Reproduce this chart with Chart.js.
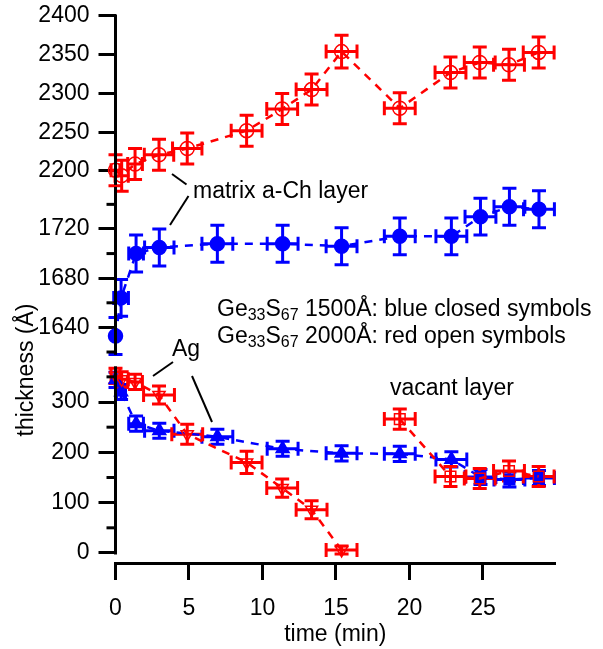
<!DOCTYPE html>
<html><head><meta charset="utf-8">
<script src="https://cdn.jsdelivr.net/npm/chart.js@4/dist/chart.umd.min.js"></script>
<style>html,body{margin:0;padding:0;background:#fff}</style>
</head><body>
<canvas id="c" width="603" height="649" style="display:block;width:603px;height:649px"></canvas>
<script>
// ---- tick labels ----
const xTickValues = [0, 5, 10, 15, 20, 25];
const topTickValues = [2200, 2250, 2300, 2350, 2400];
const midTickValues = [1640, 1680, 1720];
const midMinorValues = [1620, 1660, 1700, 1740];
const botTickValues = [0, 100, 200, 300];
const botMinorValues = [50, 150, 250, 350];

// ---- Ge33S67 2000 Å (red, open symbols): matrix a-Ch layer ----
const redMatrixTime = [0, 0.42, 1.33, 2.96, 4.88, 8.92, 11.34, 13.34, 15.38, 19.34, 22.79, 24.78, 26.77, 28.79];
const redMatrixThick = [2201, 2194, 2209, 2221, 2229, 2252, 2280, 2305, 2354, 2281, 2327, 2340, 2337, 2353];
const redMatrixTimeErr = [0.3, 0.45, 0.5, 1.0, 1.0, 1.05, 1.05, 1.05, 1.05, 1.05, 1.05, 1.05, 1.05, 1.05];
const redMatrixThickErr = [20, 20, 20, 20, 20, 20, 20, 20, 21, 20, 20, 20, 20, 20];

// ---- Ge33S67 1500 Å (blue, closed symbols): matrix a-Ch layer ----
const blueMatrixTime = [0, 0.38, 1.4, 2.98, 6.93, 11.37, 15.38, 19.34, 22.85, 24.83, 26.8, 28.81];
const blueMatrixThick = [1633, 1664, 1700, 1705, 1708, 1708, 1706, 1714, 1714, 1730, 1738, 1736];
const blueMatrixTimeErr = [0, 0.5, 0.5, 1.0, 1.05, 1.05, 1.05, 1.05, 1.05, 1.05, 1.05, 1.05];
const blueMatrixThickErr = [15, 15, 15, 15, 15, 15, 15, 15, 15, 15, 15, 15];

// ---- red Ag layer ----
const redAgTime = [0, 0.42, 1.33, 2.96, 4.88, 8.92, 11.34, 13.34, 15.38];
const redAgThick = [352, 345, 340, 314, 236, 180, 129, 86, 6];
const redAgTimeErr = [0.3, 0.45, 0.5, 1.05, 1.05, 1.05, 1.05, 1.05, 1.05];
const redAgThickErr = [15, 15, 15, 18, 20, 22, 18, 18, 8];

// ---- red vacant layer ----
const redVacTime = [19.34, 22.79, 24.78, 26.77, 28.79];
const redVacThick = [266, 152, 148, 163, 152];
const redVacTimeErr = [1.05, 1.05, 1.05, 1.05, 1.05];
const redVacThickErr = [20, 20, 20, 20, 20];

// ---- blue Ag / vacant layer ----
const blueAgTime = [0, 0.38, 1.4, 2.98, 6.93, 11.37, 15.38, 19.34, 22.85, 24.83, 26.8, 28.81];
const blueAgThick = [344, 320, 257, 243, 231, 207, 198, 197, 186, 151, 146, 149];
const blueAgTimeErr = [0, 0.3, 0.5, 1.0, 1.05, 1.05, 1.05, 1.05, 1.05, 1.05, 1.05, 1.05];
const blueAgThickErr = [15, 15, 15, 15, 15, 15, 15, 15, 15, 15, 15, 15];

const RED = '#ff0000', BLUE = '#0000ff';
const FONT = 'Liberation Sans, Arial, Helvetica, sans-serif';
const pts = (xs, ys) => xs.map((x, i) => ({x, y: ys[i]}));

function ds(label, xs, ys, ex, ey, color, yAxisID, extra) {
  return Object.assign({
    label, data: pts(xs, ys), errX: ex, errY: ey, yAxisID, xAxisID: 'x',
    showLine: true, borderColor: color, borderWidth: 2.5, borderDash: [8, 7],
    pointBorderColor: color, pointBorderWidth: 1.5, pointRadius: 7, clip: false
  }, extra);
}

const datasets = [
  ds('red matrix', redMatrixTime, redMatrixThick, redMatrixTimeErr, redMatrixThickErr, RED, 'yTop',
     {pointStyle: 'circle', pointBackgroundColor: 'rgba(0,0,0,0)'}),
  ds('red Ag', redAgTime, redAgThick, redAgTimeErr, redAgThickErr, RED, 'yBot',
     {pointStyle: 'triangle', pointRotation: 180, pointBackgroundColor: 'rgba(0,0,0,0)'}),
  ds('red vacant', redVacTime, redVacThick, redVacTimeErr, redVacThickErr, RED, 'yBot',
     {pointStyle: 'rect', pointRadius: 7.5, pointBackgroundColor: 'rgba(0,0,0,0)'}),
  ds('blue matrix', blueMatrixTime, blueMatrixThick, blueMatrixTimeErr, blueMatrixThickErr, BLUE, 'yMid',
     {pointStyle: 'circle', pointBackgroundColor: BLUE}),
  ds('blue Ag', blueAgTime, blueAgThick, blueAgTimeErr, blueAgThickErr, BLUE, 'yBot',
     {pointStyle: (c) => c.dataIndex >= 9 ? 'rect' : 'triangle', pointRadius: 7.5, pointBackgroundColor: BLUE})
];

const errorBars = {
  id: 'errorBars',
  beforeDatasetsDraw(chart) {
    const ctx = chart.ctx;
    const list = chart.data.datasets;
    for (let i = list.length - 1; i >= 0; i--) {
      const d = list[i];
      const xs = chart.scales[d.xAxisID], ys = chart.scales[d.yAxisID];
      ctx.save();
      ctx.strokeStyle = d.borderColor; ctx.lineWidth = 3; ctx.lineCap = 'butt'; ctx.setLineDash([]);
      const cap = 7;
      d.data.forEach((p, j) => {
        const px = xs.getPixelForValue(p.x), py = ys.getPixelForValue(p.y);
        const ex = d.errX[j], ey = d.errY[j];
        ctx.beginPath();
        if (ey) {
          const y1 = ys.getPixelForValue(p.y + ey), y2 = ys.getPixelForValue(p.y - ey);
          ctx.moveTo(px, y1); ctx.lineTo(px, y2);
          ctx.moveTo(px - cap, y1); ctx.lineTo(px + cap, y1);
          ctx.moveTo(px - cap, y2); ctx.lineTo(px + cap, y2);
        }
        if (ex) {
          const x1 = xs.getPixelForValue(p.x - ex), x2 = xs.getPixelForValue(p.x + ex);
          ctx.moveTo(x1, py); ctx.lineTo(x2, py);
          ctx.moveTo(x1, py - cap); ctx.lineTo(x1, py + cap);
          ctx.moveTo(x2, py - cap); ctx.lineTo(x2, py + cap);
        }
        ctx.stroke();
      });
      ctx.restore();
    }
  }
};

const axisDecor = {
  id: 'axisDecor',
  afterDraw(chart) {
    const ctx = chart.ctx;
    const left = chart.chartArea.left;
    const yT = chart.scales.yTop, yM = chart.scales.yMid, yB = chart.scales.yBot;
    ctx.save();
    ctx.strokeStyle = '#000'; ctx.lineWidth = 3; ctx.lineCap = 'butt';
    const seg = (s, a, b) => { ctx.beginPath(); ctx.moveTo(left, s.getPixelForValue(a) - 1.5); ctx.lineTo(left, s.getPixelForValue(b) + 1.5); ctx.stroke(); };
    seg(yT, 2400, 2184);
    seg(yM, 1753, 1619);
    seg(yB, 368, 0);
    const minor = (s, vals) => vals.forEach(v => { const y = s.getPixelForValue(v); ctx.beginPath(); ctx.moveTo(left - 9, y); ctx.lineTo(left, y); ctx.stroke(); });
    minor(yM, midMinorValues);
    minor(yB, botMinorValues);

    // annotation leader lines
    ctx.lineWidth = 2;
    const line = (x1, y1, x2, y2) => { ctx.beginPath(); ctx.moveTo(x1, y1); ctx.lineTo(x2, y2); ctx.stroke(); };
    line(172, 174, 186.5, 184.5);
    line(188.5, 196, 170, 225);
    line(153, 376, 173, 362);
    line(192, 376, 212, 422);

    ctx.fillStyle = '#000';
    ctx.font = '23px ' + FONT;
    ctx.textBaseline = 'alphabetic'; ctx.textAlign = 'left';
    ctx.fillText('matrix a-Ch layer', 193, 198);
    ctx.fillText('Ag', 172, 356);
    ctx.fillText('vacant layer', 390, 395);

    const rich = (parts, x, y) => {
      parts.forEach(([t, sub]) => {
        ctx.font = (sub ? '16px ' : '23px ') + FONT;
        ctx.fillText(t, x, y + (sub ? 4 : 0));
        x += ctx.measureText(t).width;
      });
    };
    rich([['Ge', 0], ['33', 1], ['S', 0], ['67', 1], [' 1500Å: blue closed symbols', 0]], 217, 315.5);
    rich([['Ge', 0], ['33', 1], ['S', 0], ['67', 1], [' 2000Å: red open symbols', 0]], 217, 343);

    ctx.font = '23px ' + FONT;
    ctx.translate(27, 370); ctx.rotate(-Math.PI / 2);
    ctx.textAlign = 'center'; ctx.textBaseline = 'middle';
    ctx.fillText('thickness (Å)', 0, 0);
    ctx.restore();
  }
};

const tickFont = {family: FONT, size: 23};
function yScale(stackWeight, min, max, ticks) {
  return {
    type: 'linear', position: 'left', stack: 'v', stackWeight, min, max,
    afterBuildTicks: s => { s.ticks = ticks.map(v => ({value: v})); },
    afterFit: s => { s.width = 115.5; s.paddingTop = 0; s.paddingBottom = 0; },
    ticks: {font: tickFont, color: '#000', padding: 9, autoSkip: false, callback: v => String(v)},
    grid: {drawOnChartArea: false, drawTicks: true, tickLength: 17, tickWidth: 3, tickColor: '#000'},
    border: {display: false}
  };
}

new Chart(document.getElementById('c'), {
  type: 'scatter',
  data: {datasets},
  options: {
    responsive: false, animation: false, devicePixelRatio: 1,
    layout: {autoPadding: false, padding: {top: 0, left: 0, right: 48, bottom: 0}},
    plugins: {legend: {display: false}, tooltip: {enabled: false}},
    scales: {
      x: {
        type: 'linear', position: 'bottom', min: 0, max: 29.9,
        afterBuildTicks: s => { s.ticks = xTickValues.map(v => ({value: v})); },
        afterFit: s => { s.height = 86; s.paddingLeft = 0; s.paddingRight = 0; },
        ticks: {font: tickFont, color: '#000', padding: 15, maxRotation: 0, autoSkip: false, callback: v => String(v)},
        grid: {drawOnChartArea: false, drawTicks: true, tickLength: 17, tickWidth: 3, tickColor: '#000'},
        border: {display: true, width: 3, color: '#000'},
        title: {display: true, text: 'time (min)', color: '#000', font: {family: FONT, size: 23}, padding: {top: 0, bottom: 1}}
      },
      // stacked axes are placed top-down in reverse definition order
      yBot: yScale(202, -19.9, 381.5, botTickValues),
      yMid: yScale(173.5, 1612.7, 1753.7, midTickValues),
      yTop: yScale(187.5, 2178.7, 2420.6, topTickValues)
    }
  },
  plugins: [errorBars, axisDecor]
});
</script>
</body></html>
